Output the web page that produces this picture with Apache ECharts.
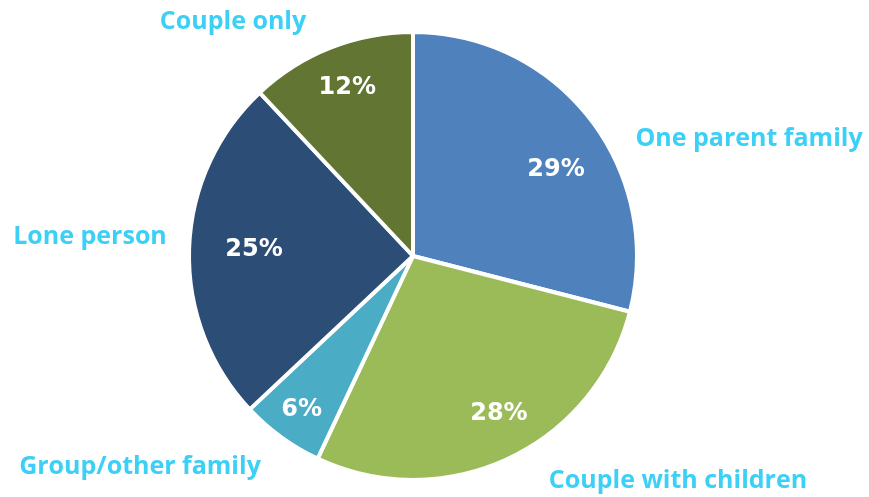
<!DOCTYPE html>
<html>
<head>
<meta charset="utf-8">
<script src="https://cdn.jsdelivr.net/npm/echarts@6/dist/echarts.min.js"></script>
<style>
  html, body { margin: 0; padding: 0; background: #fff; }
  #chart { width: 869px; height: 497px; }
</style>
</head>
<body>
<div id="chart"></div>
<script>
// household types, clockwise from 12 o'clock
const categories = ['One parent family', 'Couple with children', 'Group/other family', 'Lone person', 'Couple only'];
const shares = [29, 28, 6, 25, 12];
const colors = ['#4F81BD', '#9BBB59', '#4BACC6', '#2C4D75', '#637532'];

// where the category names sit (same order as categories)
const namePos = [[749, 139], [678, 481], [140, 467], [90, 237], [233, 22]];
// small nudges for the percentage labels
const pctNudge = [[4, 22], [11, -1], [-8, 11], [17, -1], [-1, -5]];

const chart = echarts.init(document.getElementById('chart'));

const pieData = categories.map((c, i) => ({ name: c, value: shares[i], itemStyle: { color: colors[i] } }));

chart.setOption({
  animation: false,
  series: [
    {
      // slices + category names
      type: 'pie',
      center: [413, 256],
      radius: [0, 224],
      startAngle: 90,
      clockwise: true,
      itemStyle: { borderColor: '#fff', borderWidth: 4 },
      label: {
        show: true,
        position: 'outside',
        formatter: '{b}',
        color: '#3CD0F6',
        fontFamily: 'Open Sans',
        fontWeight: 'bold',
        fontSize: 25,
        overflow: 'none',
        width: 300
      },
      labelLine: { show: false },
      labelLayout: function (p) {
        const pos = namePos[p.dataIndex];
        return { x: pos[0], y: pos[1], align: 'center', verticalAlign: 'middle' };
      },
      emphasis: { disabled: true },
      data: pieData
    },
    {
      // invisible copy, only used to put the percentages further out
      type: 'pie',
      center: [413, 256],
      radius: [0, 346],
      startAngle: 90,
      clockwise: true,
      silent: true,
      z: 3,
      itemStyle: { color: 'rgba(0,0,0,0)' },
      label: {
        show: true,
        position: 'inside',
        formatter: '{d}%',
        color: '#fff',
        fontFamily: 'DejaVu Sans',
        fontWeight: 'bold',
        fontSize: 24
      },
      labelLine: { show: false },
      labelLayout: function (p) {
        const n = pctNudge[p.dataIndex];
        return { dx: n[0], dy: n[1] };
      },
      emphasis: { disabled: true },
      data: categories.map((c, i) => ({ name: c, value: shares[i] }))
    }
  ]
});
</script>
</body>
</html>
